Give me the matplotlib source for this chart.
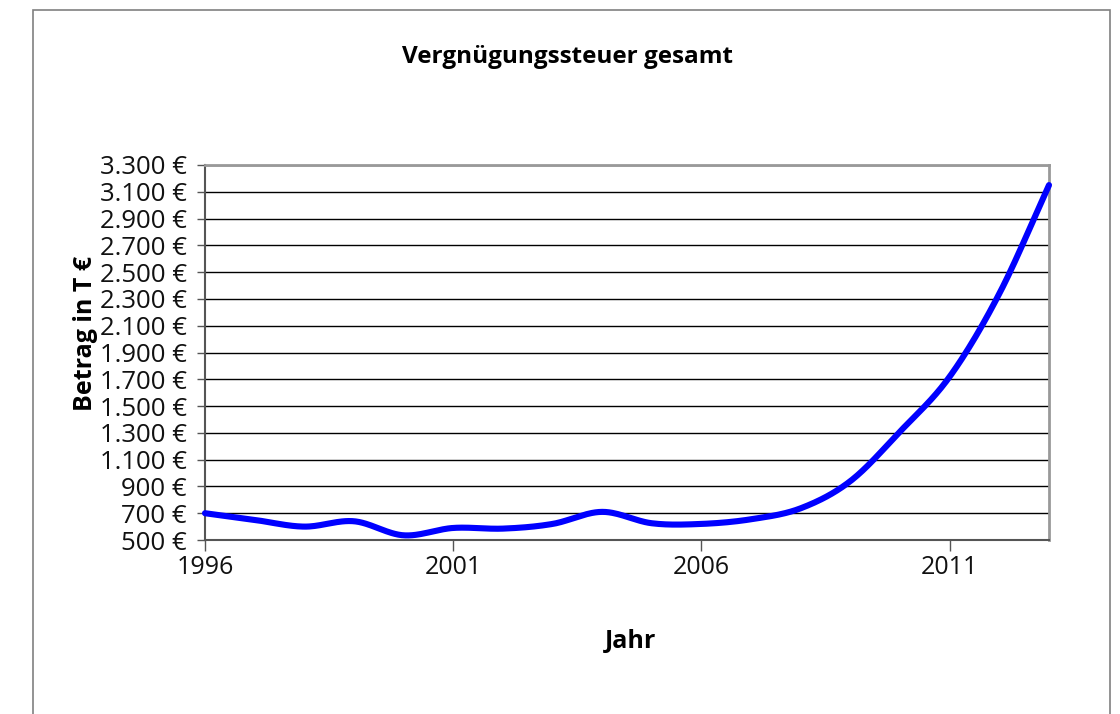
import numpy as np
import matplotlib
matplotlib.use("Agg")
import matplotlib.pyplot as plt
from matplotlib.patches import Rectangle

years = [1996, 1997, 1998, 1999, 2000, 2001, 2002, 2003, 2004, 2005,
         2006, 2007, 2008, 2009, 2010, 2011, 2012, 2013]
values = [700, 650, 600, 640, 535, 590, 585, 620, 710, 625,
          620, 655, 737, 940, 1310, 1720, 2340, 3150]
yticks = list(range(500, 3301, 200))
ytick_labels = [f"{v:,}".replace(",", ".") + " €" for v in yticks]
xticks = [1996, 2001, 2006, 2011]

title = "Vergnügungssteuer gesamt"
xlabel = "Jahr"
ylabel = "Betrag in T €"

plt.rcParams['font.family'] = ['Open Sans', 'DejaVu Sans']


def smooth(x, y, n=30):
    # Catmull-Rom style smoothing similar to spreadsheet "smoothed line"
    x = np.asarray(x, float)
    y = np.asarray(y, float)
    px = np.concatenate([[2 * x[0] - x[1]], x, [2 * x[-1] - x[-2]]])
    py = np.concatenate([[2 * y[0] - y[1]], y, [2 * y[-1] - y[-2]]])
    xs, ys = [], []
    t = np.linspace(0, 1, n)
    for i in range(1, len(px) - 2):
        p0, p1, p2, p3 = (np.array([px[j], py[j]]) for j in (i - 1, i, i + 1, i + 2))
        c1 = p1 + (p2 - p0) / 6
        c2 = p2 - (p3 - p1) / 6
        b = ((1 - t) ** 3)[:, None] * p1 + (3 * (1 - t) ** 2 * t)[:, None] * c1 + \
            (3 * (1 - t) * t ** 2)[:, None] * c2 + (t ** 3)[:, None] * p2
        xs.extend(b[:, 0])
        ys.extend(b[:, 1])
    return np.array(xs), np.array(ys)


fig = plt.figure(figsize=(11.2, 7.14), dpi=100)
fig.patch.set_facecolor("white")

# outer chart frame
fig.patches.append(Rectangle((33 / 1120, -0.05), (1110 - 33) / 1120, 1 - 10 / 714 + 0.05,
                             transform=fig.transFigure, fill=False,
                             edgecolor="#808080", linewidth=1.2, zorder=0))

ax = fig.add_axes([205 / 1120, 1 - 540 / 714, (1049 - 205) / 1120, (540 - 165) / 714])
sx, sy = smooth(years, values)
ax.plot(sx, sy, color="#0000FF", linewidth=4.4, solid_capstyle="round", zorder=3,
        clip_on=False)

ax.set_xlim(1996, 2013)
ax.set_ylim(500, 3300)
ax.set_yticks(yticks)
ax.set_yticklabels(ytick_labels)
ax.set_xticks(xticks)
ax.set_xticklabels([str(x) for x in xticks])
ax.yaxis.grid(True, color="black", linewidth=1.0)
ax.set_axisbelow(True)

for s in ("top", "right"):
    ax.spines[s].set_color("#999999")
    ax.spines[s].set_linewidth(2)
for s in ("left", "bottom"):
    ax.spines[s].set_color("#555555")
    ax.spines[s].set_linewidth(1.5)

ax.tick_params(axis="y", direction="out", length=6, width=1, color="#555555",
               labelsize=18.5, pad=7, labelcolor="#111111")
ax.tick_params(axis="x", direction="out", length=8, width=1, color="#555555",
               labelsize=18, pad=3, labelcolor="#111111")

fig.text(567 / 1120, 1 - 57 / 714, title, ha="center", va="center",
         fontsize=17.5, fontweight="bold")
fig.text(631 / 1120, 1 - 641 / 714, xlabel, ha="center", va="center",
         fontsize=18, fontweight="bold")
fig.text(86 / 1120, 1 - 333 / 714, ylabel, ha="center", va="center",
         fontsize=18, fontweight="bold", rotation=90)

fig.savefig("out.png", dpi=100, facecolor="white")
